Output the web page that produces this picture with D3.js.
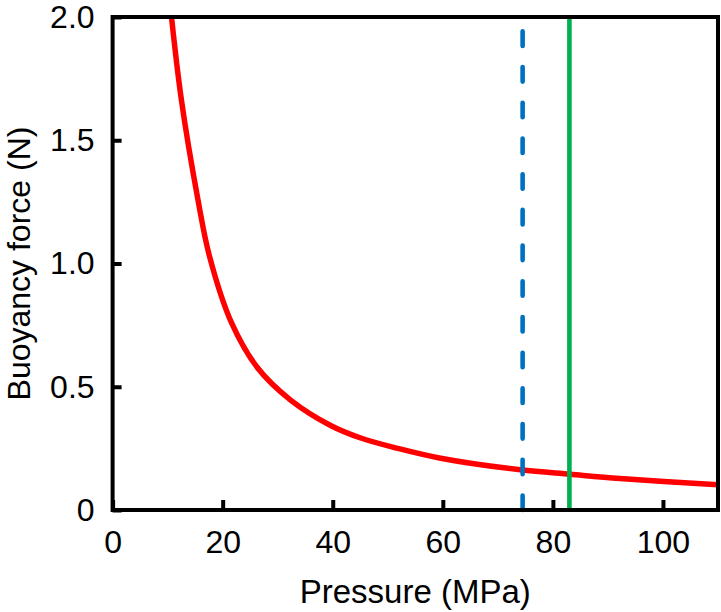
<!DOCTYPE html>
<html>
<head>
<meta charset="utf-8">
<script src="https://cdn.jsdelivr.net/npm/d3@7"></script>
<style>
    body { margin: 0; background: #fff; }
    text { font-family: "Liberation Sans", Arial, sans-serif; fill: #000; }
</style>
</head>
<body>
<div id="chart"></div>
<script>
// values
var pressure = [10.7, 12.5, 15.5, 17.6, 21.6, 26.4, 32.4, 39.7, 45.1, 51.8, 59.6, 74.1, 83.2, 92.2, 110];
var buoyancy = [2.0, 1.664, 1.26, 1.03, 0.76, 0.575, 0.445, 0.342, 0.292, 0.25, 0.21, 0.163, 0.145, 0.128, 0.102];
var xTicks = [0, 20, 40, 60, 80, 100];
var yTicks = [0, 0.5, 1.0, 1.5, 2.0];
var yTickLabels = ["0", "0.5", "1.0", "1.5", "2.0"];
var dashedPressure = 74.5;   // blue dashed marker
var solidPressure = 83;      // green solid marker

function drawChart() {

    var w = 721;
    var h = 612;

    var padLeft = 112.6, padRight = 718, padTop = 17, padBottom = 510;

    var svg = d3.select("#chart").append("svg").attr("width", w).attr("height", h);

    var xScale = d3.scaleLinear().domain([0, 110]).range([padLeft, padRight]);
    var yScale = d3.scaleLinear().domain([0, 2]).range([padBottom, padTop]);

    //clip for the curve
    svg.append("clipPath").attr("id", "plotclip")
        .append("rect")
        .attr("x", padLeft).attr("y", padTop)
        .attr("width", padRight - padLeft).attr("height", padBottom - padTop);

    var data = pressure.map(function (p, i) {
        return { p: p, f: buoyancy[i] };
    });

    var line = d3.line()
        .x(function (d) { return xScale(d.p); })
        .y(function (d) { return yScale(d.f); })
        .curve(d3.curveCatmullRom.alpha(0.5));

    svg.append("path")
        .datum(data)
        .attr("clip-path", "url(#plotclip)")
        .attr("d", line)
        .attr("fill", "none")
        .attr("stroke", "#ff0000")
        .attr("stroke-width", 5.5);

    // dashed marker, drawn from the bottom up
    svg.append("line")
        .attr("x1", xScale(dashedPressure)).attr("x2", xScale(dashedPressure))
        .attr("y1", yScale(0)).attr("y2", yScale(2))
        .attr("stroke", "#0070c0")
        .attr("stroke-width", 4.6)
        .attr("stroke-linecap", "round")
        .attr("stroke-dasharray", "14.5,21.2");

    svg.append("line")
        .attr("x1", xScale(solidPressure)).attr("x2", xScale(solidPressure))
        .attr("y1", yScale(0)).attr("y2", yScale(2))
        .attr("stroke", "#00b050")
        .attr("stroke-width", 4.6);

    //Axes with inward ticks
    var xAxis = d3.axisBottom(xScale).tickValues(xTicks).tickSizeInner(-10).tickSizeOuter(0).tickPadding(20);
    var gx = svg.append("g").attr("transform", "translate(0," + padBottom + ")").call(xAxis);

    var yAxis = d3.axisLeft(yScale).tickValues(yTicks).tickSizeInner(-9).tickSizeOuter(0).tickPadding(18)
        .tickFormat(function (d, i) { return yTickLabels[i]; });
    var gy = svg.append("g").attr("transform", "translate(" + padLeft + ",0)").call(yAxis);

    [gx, gy].forEach(function (g) {
        g.attr("font-size", null).attr("font-family", null);
        g.select(".domain").remove();
        g.selectAll(".tick line").attr("stroke", "#000").attr("stroke-width", 4);
        g.selectAll(".tick text").style("font-size", "32px").attr("fill", "#000");
    });

    // frame
    svg.append("rect")
        .attr("x", padLeft).attr("y", padTop)
        .attr("width", padRight - padLeft).attr("height", padBottom - padTop)
        .attr("fill", "none")
        .attr("stroke", "#000")
        .attr("stroke-width", 4);

    svg.append("text")
        .attr("x", (padLeft + padRight) / 2)
        .attr("y", 603)
        .attr("text-anchor", "middle")
        .style("font-size", "33px")
        .text("Pressure (MPa)");

    svg.append("text")
        .attr("transform", "translate(30," + ((padTop + padBottom) / 2) + ") rotate(-90)")
        .attr("text-anchor", "middle")
        .style("font-size", "32px")
        .text("Buoyancy force (N)");
}

drawChart();
</script>
</body>
</html>
